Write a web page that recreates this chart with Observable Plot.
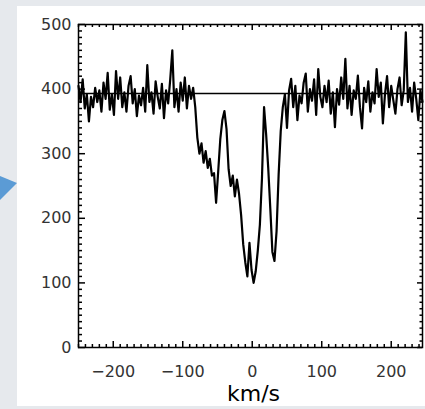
<!DOCTYPE html>
<html><head><meta charset="utf-8">
<script src="https://cdn.jsdelivr.net/npm/d3@7"></script>
<script src="https://cdn.jsdelivr.net/npm/@observablehq/plot@0.6"></script>
<style>
html,body{margin:0;padding:0;}
body{width:425px;height:409px;position:relative;overflow:hidden;background:#e6e9ed;}
#panel{position:absolute;left:17px;top:6px;width:408px;height:400px;background:#fff;}
#arrow{position:absolute;left:0;top:0;}
#chart{position:absolute;left:0;top:0;}
</style></head><body>
<div id="panel"></div>
<svg id="arrow" width="20" height="409"><polygon points="0,176 17,183 0,200" fill="#5b9bd5"/></svg>
<div id="chart"></div>
<script>
// velocity grid (km/s): first channel and channel width
const vStart = -250, vStep = 3;
// flux per channel
const fluxLeft = [405,380,415,370,392,350,388,372,402,380,398,365,410,385,425,368,392,360,428,385,
  418,372,395,365,405,420,378,400,358,390,375,402,365,437,380,395,362,412,388,370,
  408,355,398,378,415,460,372,400,365,410,382,418,370,405,385];
const fluxAbsorption = [402,372,325,300,316,286,304,278,292,266,270,224,272,322,352,366,338,276,250,266,
  234,260,238,205,160,132,110,162,120,100,118,150,190,262,372,330,278,215,148,134,
  180,268,335,372,392];
const fluxRight = [340,398,416,372,405,352,390,378,410,424,365,400,382,415,360,431,388,372,405,380,
  413,362,395,341,400,376,418,385,447,370,405,360,398,385,421,372,339,402,380,412,
  365,395,378,431,388,410,347,392,420,372,405,383,362,400,418,375,398,488,380,402,
  365,410,385,352,398,380];
const continuumLevel = 393;
const xDomain = [-250, 245];
const yDomain = [0, 500];
const xTickLabels = [-200, -100, 0, 100, 200];
const yTickLabels = [0, 100, 200, 300, 400, 500];
const xLabel = "km/s";

const flux = [...fluxLeft, ...fluxAbsorption, ...fluxRight];
const data = flux.map((f, i) => ({v: vStart + i * vStep, f}));

const W = 425, H = 409, mL = 78, mR = 3, mT = 24, mB = 62;
const plotW = W - mL - mR, plotH = H - mT - mB;
const xMajor = d3.range(-200, 201, 100);
const xMinor = d3.range(-250, 246, 10).filter(d => d % 100 !== 0);
const yMajor = d3.range(0, 501, 100);
const yMinor = d3.range(0, 501, 10).filter(d => d % 100 !== 0);
const tk = {stroke: "black", strokeWidth: 1.5};

const chart = Plot.plot({
  width: W, height: H,
  marginLeft: mL, marginRight: mR, marginTop: mT, marginBottom: mB,
  x: {domain: xDomain},
  y: {domain: yDomain},
  style: {background: "transparent", fontFamily: "DejaVu Sans", fontSize: "16px", color: "#333", overflow: "visible"},
  marks: [
    Plot.ruleY([continuumLevel], {stroke: "black", strokeWidth: 1.5}),
    Plot.line(data, {x: "v", y: "f", stroke: "black", strokeWidth: 2.2}),
    // inward ticks, all four sides
    Plot.tickX(xMajor, {...tk, insetTop: plotH - 6}),
    Plot.tickX(xMinor, {...tk, insetTop: plotH - 3}),
    Plot.tickX(xMajor, {...tk, insetBottom: plotH - 6}),
    Plot.tickX(xMinor, {...tk, insetBottom: plotH - 3}),
    Plot.tickY(yMajor, {...tk, insetRight: plotW - 7}),
    Plot.tickY(yMinor, {...tk, insetRight: plotW - 4}),
    Plot.tickY(yMajor, {...tk, insetLeft: plotW - 5}),
    Plot.tickY(yMinor, {...tk, insetLeft: plotW - 2.5}),
    Plot.frame({stroke: "black", strokeWidth: 1.5}),
    Plot.axisX({ticks: xTickLabels, tickSize: 0, tickPadding: 18, label: null, fill: "#333"}),
    Plot.axisY({ticks: yTickLabels, tickSize: 0, tickPadding: 7, label: null, fill: "#333"}),
    Plot.text([xLabel], {frameAnchor: "bottom", dx: 3, dy: 53, lineAnchor: "bottom", fontSize: 22, fill: "black", fontFamily: "DejaVu Sans"})
  ]
});
document.getElementById("chart").appendChild(chart);
</script>
</body></html>
